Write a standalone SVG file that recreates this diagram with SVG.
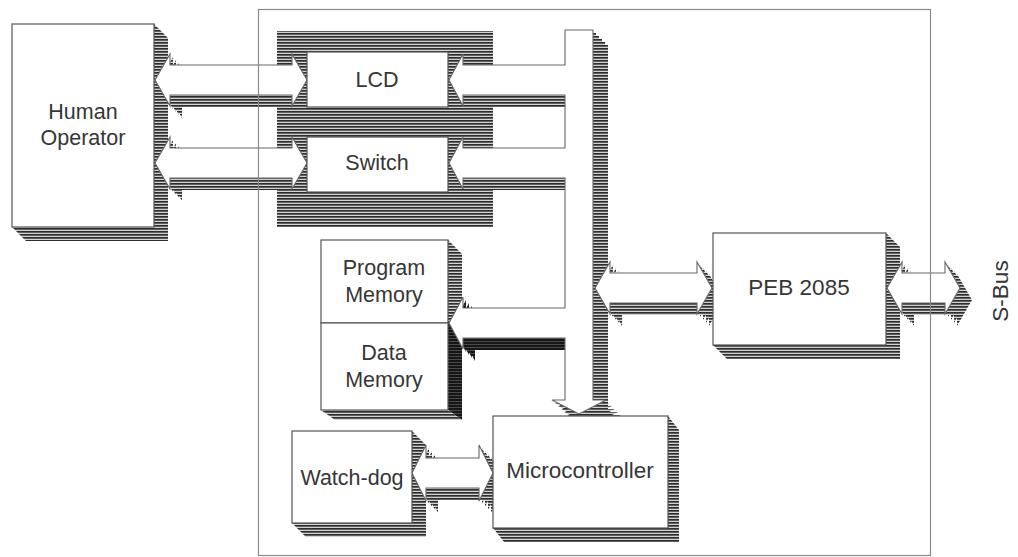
<svg xmlns="http://www.w3.org/2000/svg" width="1018" height="557" viewBox="0 0 1018 557">
  <defs>
    <style>
      .face{fill:#fff;stroke:#555;stroke-width:1.2}
      .arrow{fill:#fff;stroke:#666;stroke-width:1.1}
      .sh{fill:url(#hatch)}
      .shd{fill:url(#hatchDark)}
      .lbl{font-family:"Liberation Sans",Arial,sans-serif;font-size:21.5px;fill:#363636;text-anchor:middle}
      .big{font-size:22.5px}
      .frame{fill:none;stroke:#8a8a8a;stroke-width:1.2}
    </style>
    <!-- horizontal line hatching used for all 3D extrusions (period 3px) -->
    <pattern id="hatch" width="6" height="3" patternUnits="userSpaceOnUse">
      <rect width="6" height="3" fill="#d2d2d2"/>
      <rect width="6" height="1.7" fill="#2e2e2e"/>
    </pattern>
    <pattern id="hatchDark" width="6" height="3" patternUnits="userSpaceOnUse">
      <rect width="6" height="3" fill="#555"/>
      <rect width="6" height="2.2" fill="#161616"/>
    </pattern>

    <!-- block arrow outlines -->
    <path id="arHumanLcd" d="M155,80 L170,54 L170,65 L292,65 L292,54 L307,80 L292,106 L292,95 L170,95 L170,106 Z"/>
    <path id="arHumanSw" d="M155,163 L170,137 L170,148 L292,148 L292,137 L307,163 L292,189 L292,178 L170,178 L170,189 Z"/>
    <path id="arPeb" d="M595,288 L610,262 L610,273 L697,273 L697,262 L712,288 L697,314 L697,303 L610,303 L610,314 Z"/>
    <path id="arSbus" d="M887,288 L902,262 L902,273 L945,273 L945,262 L960,288 L945,314 L945,303 L902,303 L902,314 Z"/>
    <path id="arWdog" d="M412,473 L426,445 L426,458 L479,458 L479,445 L493,473 L479,501 L479,488 L426,488 L426,501 Z"/>
    <!-- internal bus: vertical trunk with its three side taps -->
    <path id="busFace" d="M565,30 L593,30 L593,400 L606,400 L579,414 L552,400 L565,400 L565,338 L463,338 L463,349 L449,323 L463,297 L463,308 L565,308 L565,178 L463,178 L463,189 L449,163 L463,137 L463,148 L565,148 L565,95 L463,95 L463,106 L449,80 L463,54 L463,65 L565,65 Z"/>
    <path id="busTrunk" d="M565,30 L593,30 L593,400 L606,400 L579,414 L552,400 L565,400 Z"/>
    <path id="tapLcd" d="M449,80 L463,54 L463,65 L565,65 L565,95 L463,95 L463,106 Z"/>
    <path id="tapSw" d="M449,163 L463,137 L463,148 L565,148 L565,178 L463,178 L463,189 Z"/>
    <path id="tapMem" d="M449,323 L463,297 L463,308 L565,308 L565,338 L463,338 L463,349 Z"/>
  </defs>

  <rect width="1018" height="557" fill="#fff"/>

  <!-- extrusion shading behind the LCD / switch panel -->
  <rect id="panel-shading" x="277" y="31" width="216" height="196" class="sh"/>

  <!-- extrusions (drawn under all faces) -->
  <g id="shadows">
    <polygon class="sh" points="154,24 168,38 168,241 26,241 12,227 154,227"/>
    <polygon class="sh" points="448,240 462,254 462,323 448,323"/>
    <polygon class="shd" points="448,323 462,323 462,420 448,410"/>
    <polygon class="sh" points="321,410 448,410 462,420 335,420"/>
    <polygon class="sh" points="412,431 426,445 426,537 306,537 292,523 412,523"/>
    <polygon class="sh" points="668,416 679,430 679,542 504,542 493,528 668,528"/>
    <polygon class="sh" points="886,233 900,247 900,359 727,359 713,345 886,345"/>
    <g class="sh">
      <use href="#arHumanLcd" transform="translate(3,3)"/><use href="#arHumanLcd" transform="translate(6,6)"/><use href="#arHumanLcd" transform="translate(9,9)"/><use href="#arHumanLcd" transform="translate(12,12)"/>
      <use href="#arHumanSw" transform="translate(3,3)"/><use href="#arHumanSw" transform="translate(6,6)"/><use href="#arHumanSw" transform="translate(9,9)"/><use href="#arHumanSw" transform="translate(12,12)"/>
      <use href="#arPeb" transform="translate(3,3)"/><use href="#arPeb" transform="translate(6,6)"/><use href="#arPeb" transform="translate(9,9)"/><use href="#arPeb" transform="translate(12,12)"/>
      <use href="#arSbus" transform="translate(3,3)"/><use href="#arSbus" transform="translate(6,6)"/><use href="#arSbus" transform="translate(9,9)"/><use href="#arSbus" transform="translate(12,12)"/>
      <use href="#arWdog" transform="translate(3,3)"/><use href="#arWdog" transform="translate(6,6)"/><use href="#arWdog" transform="translate(9,9)"/><use href="#arWdog" transform="translate(12,12)"/>
      <use href="#busTrunk" transform="translate(3,3)"/><use href="#busTrunk" transform="translate(6,6)"/><use href="#busTrunk" transform="translate(9,9)"/><use href="#busTrunk" transform="translate(12,12)"/><use href="#busTrunk" transform="translate(15,15)"/>
      <use href="#tapLcd" transform="translate(3,3)"/><use href="#tapLcd" transform="translate(6,6)"/><use href="#tapLcd" transform="translate(9,9)"/><use href="#tapLcd" transform="translate(12,12)"/>
      <use href="#tapSw" transform="translate(3,3)"/><use href="#tapSw" transform="translate(6,6)"/><use href="#tapSw" transform="translate(9,9)"/><use href="#tapSw" transform="translate(12,12)"/>
    </g>
    <g class="shd">
      <use href="#tapMem" transform="translate(3,3)"/><use href="#tapMem" transform="translate(6,6)"/><use href="#tapMem" transform="translate(9,9)"/><use href="#tapMem" transform="translate(12,12)"/>
    </g>
  </g>

  <!-- connectors -->
  <g id="connectors">
    <use href="#arHumanLcd" class="arrow"/>
    <use href="#arHumanSw" class="arrow"/>
    <use href="#busFace" class="arrow"/>
    <use href="#arPeb" class="arrow"/>
    <use href="#arSbus" class="arrow"/>
    <use href="#arWdog" class="arrow"/>
  </g>

  <!-- nodes -->
  <g id="human-operator">
    <rect class="face" x="12" y="24" width="142" height="203"/>
    <text class="lbl" x="83" y="119">Human</text>
    <text class="lbl" x="83" y="145">Operator</text>
  </g>
  <g id="lcd">
    <rect class="face" x="307" y="52" width="141" height="55"/>
    <text class="lbl" x="377" y="87">LCD</text>
  </g>
  <g id="switch">
    <rect class="face" x="307" y="137" width="141" height="55"/>
    <text class="lbl" x="377" y="170">Switch</text>
  </g>
  <g id="program-memory">
    <rect class="face" x="321" y="240" width="127" height="83"/>
    <text class="lbl" x="384" y="275">Program</text>
    <text class="lbl" x="384" y="302">Memory</text>
  </g>
  <g id="data-memory">
    <rect class="face" x="321" y="323" width="127" height="87"/>
    <text class="lbl" x="384" y="360">Data</text>
    <text class="lbl" x="384" y="387">Memory</text>
  </g>
  <g id="watch-dog">
    <rect class="face" x="292" y="431" width="120" height="92"/>
    <text class="lbl" x="352" y="485">Watch-dog</text>
  </g>
  <g id="microcontroller">
    <rect class="face" x="493" y="416" width="175" height="112"/>
    <text class="lbl big" x="580" y="478">Microcontroller</text>
  </g>
  <g id="peb-2085">
    <rect class="face" x="713" y="233" width="173" height="112"/>
    <text class="lbl big" x="799" y="295">PEB 2085</text>
  </g>
  <g id="s-bus">
    <text class="lbl big" transform="translate(1008,291) rotate(-90)">S-Bus</text>
  </g>

  <!-- board outline -->
  <rect class="frame" x="258.5" y="9.5" width="672" height="546"/>
</svg>
